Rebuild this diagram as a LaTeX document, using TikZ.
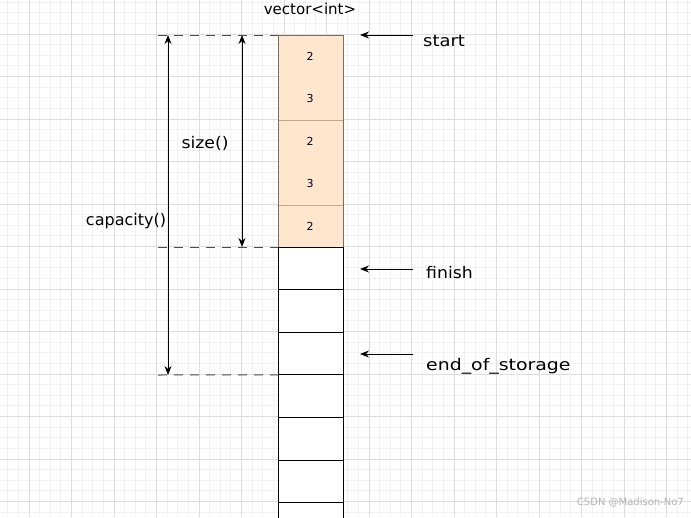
\documentclass[tikz,border=0pt]{standalone}
\usepackage{fontspec}
\setmainfont{DejaVu Sans}
\usetikzlibrary{arrows.meta}
\definecolor{gridminor}{HTML}{F2F2F2}
\definecolor{gridmajor}{HTML}{DDDDDD}
\definecolor{cellfill}{HTML}{FFE6CC}
\definecolor{celledge}{HTML}{7A6F66}
\definecolor{cellsep}{HTML}{C4A78C}
\definecolor{wmark}{HTML}{B4B4B4}
\tikzset{
  minorgrid/.style={draw=gridminor, line width=0.8pt},
  majorgrid/.style={draw=gridmajor, line width=0.9pt},
  ocell/.style={draw=celledge, fill=cellfill, line width=0.9pt, anchor=north west, minimum width=65pt, inner sep=0pt, outer sep=0pt},
  wcell/.style={draw=black, fill=white, line width=0.9pt, anchor=north west, minimum width=65pt, minimum height=42.6pt, inner sep=0pt, outer sep=0pt},
  num/.style={font=\fontsize{11}{13}\selectfont, text=black!85!blue},
  lbl/.style={font=\fontsize{16}{19}\selectfont, inner sep=0pt},
  guide/.style={draw=black!70, dashed, dash pattern=on 9pt off 7pt, line width=1pt},
  dim/.style={draw=black, line width=1pt, {Stealth[length=9pt,width=7pt]}-{Stealth[length=9pt,width=7pt]}},
  ptr/.style={draw=black, line width=1pt, -{Stealth[length=9pt,width=7pt]}}
}
\begin{document}
\begin{tikzpicture}[x=1pt,y=-1pt]
\useasboundingbox (0,0) rectangle (691,517);
\fill[white] (0,0) rectangle (691,517);
\begin{scope}
\clip (0,0) rectangle (691,517);
\foreach \i in {0,...,66} {\draw[minorgrid] ({-13.5+10.625*\i},0) -- ++(0,517);}
\foreach \i in {0,...,50} {\draw[minorgrid] (0,{-8.5+10.625*\i}) -- ++(691,0);}
\foreach \i in {0,...,16} {\draw[majorgrid] ({29+42.5*\i},0) -- ++(0,517);}
\foreach \i in {0,...,12} {\draw[majorgrid] (0,{34+42.5*\i}) -- ++(691,0);}
% cells
\node[ocell, minimum height=85pt] (o1) at (278,35) {};
\node[ocell, minimum height=85pt] (o2) at (278,120) {};
\node[ocell, minimum height=42pt] (o3) at (278,205) {};
\draw[cellsep, line width=0.9pt] (o1.south west) -- (o1.south east);
\draw[cellsep, line width=0.9pt] (o2.south west) -- (o2.south east);
\draw[celledge, line width=0.9pt] (o1.north west) rectangle (o3.south east);
\node[wcell] (w1) at (278,247) {};
\node[wcell] (w2) at (278,289.6) {};
\node[wcell] (w3) at (278,332.2) {};
\node[wcell] (w4) at (278,374.8) {};
\node[wcell] (w5) at (278,417.4) {};
\node[wcell] (w6) at (278,460) {};
\node[wcell] (w7) at (278,502.6) {};
\end{scope}
% numbers
\node[num] (n1) at (310,56) {2};
\node[num] (n2) at (310,98) {3};
\node[num] (n3) at (310,141) {2};
\node[num] (n4) at (310,183) {3};
\node[num] (n5) at (310,226) {2};
% guide lines
\coordinate (g1) at (158,35);
\coordinate (g2) at (158,247);
\coordinate (g3) at (158,375);
\draw[guide] (g1) -- (o1.north west);
\draw[guide] (g2) -- (w1.north west);
\draw[guide] (g3) -- (w4.north west);
% dimension arrows
\coordinate (ct) at (168,35);
\coordinate (cb) at (168,375);
\coordinate (st) at (242,35);
\coordinate (sb) at (242,247);
\draw[dim] (ct) -- (cb);
\draw[dim] (st) -- (sb);
% labels
\node[lbl, font=\fontsize{15}{18}\selectfont] (vec) at (310,9) {vector<int>};
\node[lbl] (size) at (205,143) {\scalebox{1.08}[1]{size()}};
\node[lbl] (cap) at (126,221) {capacity()};
\node[lbl, anchor=west] (start) at (423,41) {\scalebox{1.12}[1]{start}};
\node[lbl, anchor=west] (finish) at (426,273) {\scalebox{1.08}[1]{finish}};
\node[lbl, anchor=west] (eos) at (426,366) {\scalebox{1.18}[1]{end\_of\_storage}};
% pointer arrows
\coordinate (p1a) at (413,35);
\coordinate (p1b) at (360,35);
\coordinate (p2a) at (413,269);
\coordinate (p2b) at (360,269);
\coordinate (p3a) at (413,354);
\coordinate (p3b) at (360,354);
\draw[ptr] (p1a) -- (p1b);
\draw[ptr] (p2a) -- (p2b);
\draw[ptr] (p3a) -- (p3b);
% watermark
\node[font=\fontsize{10}{12}\selectfont, text=wmark, anchor=east, inner sep=0pt] (wm) at (684,503) {CSDN @Madison-No7};
\end{tikzpicture}
\end{document}
